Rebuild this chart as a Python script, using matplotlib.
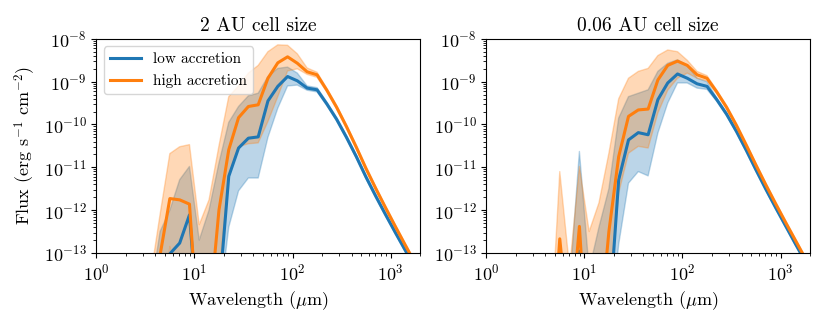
"""SED comparison: low vs high accretion for two grid cell sizes."""

import matplotlib

matplotlib.use("Agg")
import matplotlib.pyplot as plt
import numpy as np

plt.rcParams["font.family"] = "serif"
plt.rcParams["font.serif"] = ["cmr10"]
plt.rcParams["mathtext.fontset"] = "cm"
plt.rcParams["axes.formatter.use_mathtext"] = True
plt.rcParams["font.size"] = 13

# wavelength grid (micron)
wavelength = [3.55, 4.47, 5.62, 7.08, 8.91, 11.2, 14.1, 17.8, 22.4, 28.2, 35.5, 44.7,
              56.2, 70.8, 89.1, 112, 141, 178, 224, 282, 355, 447, 562, 708, 891,
              1122, 1413, 1778]

# log10 flux, 2 AU cell size
low_mid_2au = [-16, -15, -13.02, -12.77, -12.11, -15, -16, -14.0, -11.21, -10.55, -10.32,
               -10.29, -9.45, -9.11, -8.88, -8.98, -9.15, -9.19, -9.52, -9.88, -10.3,
               -10.75, -11.23, -11.68, -12.11, -12.53, -12.94, -13.35]
low_upper_2au = [-14, -12.5, -12.0, -11.29, -10.98, -12.7, -12.0, -10.9, -9.95, -9.58,
                 -9.33, -9.27, -8.88, -8.69, -8.66, -8.8, -9.1, -9.14, -9.48, -9.84,
                 -10.26, -10.71, -11.19, -11.64, -12.07, -12.49, -12.9, -13.31]
low_lower_2au = [-17, -16, -16, -16, -16, -17, -17, -14.3, -12.4, -11.55, -11.25, -11.25,
                 -10.3, -9.62, -9.1, -9.08, -9.2, -9.24, -9.56, -9.92, -10.34, -10.79,
                 -11.27, -11.72, -12.15, -12.57, -12.98, -13.39]
high_mid_2au = [-16, -13.05, -11.73, -11.76, -11.86, -15.2, -14.5, -12.0, -10.59, -9.84,
                -9.58, -9.54, -8.92, -8.56, -8.42, -8.57, -8.77, -8.84, -9.2, -9.6,
                -10.05, -10.53, -11.03, -11.5, -11.95, -12.39, -12.82, -13.24]
high_upper_2au = [-13.6, -12.1, -10.68, -10.52, -10.47, -12.34, -11.76, -10.5, -9.35,
                  -9.1, -8.8, -8.62, -8.3, -8.14, -8.15, -8.35, -8.68, -8.78, -9.16,
                  -9.56, -10.01, -10.49, -10.99, -11.46, -11.91, -12.35, -12.78, -13.2]
high_lower_2au = [-17, -15, -12.85, -14, -14, -16, -15.5, -13.5, -11.2, -10.52, -10.45,
                  -10.43, -9.93, -9.35, -8.75, -8.7, -8.83, -8.9, -9.24, -9.64, -10.09,
                  -10.57, -11.07, -11.54, -11.99, -12.43, -12.86, -13.28]

# log10 flux, 0.06 AU cell size
low_mid_006 = [-17, -16, -15, -15, -12.96, -16, -17, -14.6, -11.29, -10.36, -10.19,
               -10.24, -9.42, -9.03, -8.82, -8.92, -9.05, -9.11, -9.42, -9.76, -10.16,
               -10.6, -11.06, -11.51, -11.94, -12.36, -12.78, -13.19]
low_upper_006 = [-16, -15, -14.5, -13.77, -10.63, -13.4, -12.4, -11.5, -9.85, -9.35,
                 -9.27, -9.19, -8.76, -8.57, -8.49, -8.62, -8.92, -9.0, -9.38, -9.72,
                 -10.12, -10.56, -11.02, -11.47, -11.9, -12.32, -12.74, -13.15]
low_lower_006 = [-18, -17, -16, -16, -15, -17, -17, -15, -12.8, -11.37, -11.1, -11.2,
                 -10.2, -9.5, -9.03, -9.03, -9.15, -9.18, -9.46, -9.8, -10.2, -10.64,
                 -11.1, -11.55, -11.98, -12.4, -12.82, -13.23]
high_mid_006 = [-17, -16, -12.67, -15, -12.38, -16, -15, -12.5, -10.75, -9.81, -9.66,
                -9.64, -8.96, -8.62, -8.52, -8.62, -8.84, -8.92, -9.24, -9.6, -10.02,
                -10.48, -10.95, -11.41, -11.85, -12.28, -12.7, -13.12]
high_upper_006 = [-16, -15.2, -11.1, -13.36, -10.98, -12.5, -11.83, -10.67, -9.4, -8.92,
                  -8.76, -8.69, -8.39, -8.26, -8.3, -8.5, -8.76, -8.86, -9.2, -9.56,
                  -9.98, -10.44, -10.91, -11.37, -11.81, -12.24, -12.66, -13.08]
high_lower_006 = [-18, -17, -14, -16, -13.5, -17, -16, -14, -11.6, -10.67, -10.51,
                  -10.55, -9.73, -9.2, -8.92, -8.8, -8.92, -8.98, -9.28, -9.64, -10.06,
                  -10.52, -10.99, -11.45, -11.89, -12.32, -12.74, -13.16]

PANELS = [
    ("2 AU cell size",
     (low_mid_2au, low_lower_2au, low_upper_2au),
     (high_mid_2au, high_lower_2au, high_upper_2au)),
    ("0.06 AU cell size",
     (low_mid_006, low_lower_006, low_upper_006),
     (high_mid_006, high_lower_006, high_upper_006)),
]


def draw_sed(ax, series, color, label):
    mid, lower, upper = (10 ** np.asarray(s, dtype=float) for s in series)
    ax.fill_between(wavelength, lower, upper, color=color, alpha=0.3)
    ax.plot(wavelength, mid, color=color, linewidth=2.2, label=label)


fig, axes = plt.subplots(1, 2, figsize=(8.3, 3.21), dpi=100)
fig.subplots_adjust(left=0.116, right=0.976, bottom=0.212, top=0.879, wspace=0.204)

for ax, (title, low, high) in zip(axes, PANELS):
    draw_sed(ax, low, "#1f77b4", "low accretion")
    draw_sed(ax, high, "#ff7f0e", "high accretion")
    ax.set_xscale("log")
    ax.set_yscale("log")
    ax.set_xlim(1, 2000)
    ax.set_ylim(1e-13, 1e-8)
    ax.set_title(title, fontsize=14)
    ax.set_xlabel(r"Wavelength ($\mu$m)")

axes[0].set_ylabel(r"Flux (erg s$^{-1}$ cm$^{-2}$)")
axes[0].legend(loc="upper left", fontsize=11)

fig.savefig("out.png", dpi=100)
